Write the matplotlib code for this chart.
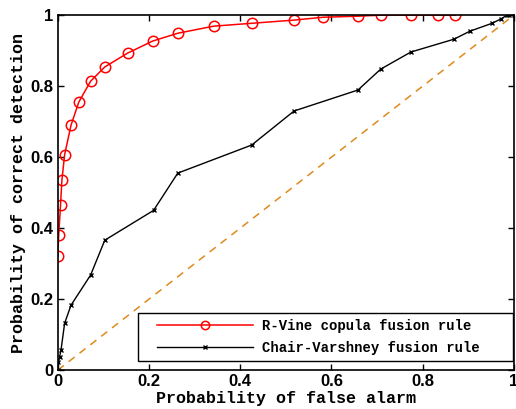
import matplotlib
matplotlib.use("Agg")
import matplotlib.pyplot as plt
from matplotlib.patches import Rectangle
import numpy as np

# R-Vine copula fusion rule
rvine_pf = [0.0, 0.002, 0.006, 0.009, 0.015, 0.029, 0.046, 0.072, 0.103, 0.153,
            0.208, 0.263, 0.342, 0.425, 0.518, 0.581, 0.658, 0.708, 0.774, 0.833, 0.871]
rvine_pd = [0.321, 0.380, 0.465, 0.535, 0.607, 0.690, 0.755, 0.814, 0.854, 0.893,
            0.927, 0.949, 0.969, 0.977, 0.986, 0.994, 0.997, 1.0, 1.0, 1.0, 1.0]

# Chair-Varshney fusion rule
cv_pf = [0.0, 0.001, 0.004, 0.007, 0.015, 0.029, 0.072, 0.103, 0.21, 0.263,
         0.425, 0.518, 0.658, 0.708, 0.774, 0.868, 0.904, 0.952, 0.971, 0.985, 0.99, 1.0]
cv_pd = [0.0, 0.022, 0.037, 0.056, 0.132, 0.183, 0.268, 0.366, 0.45, 0.555,
         0.634, 0.73, 0.789, 0.848, 0.896, 0.932, 0.955, 0.977, 0.989, 1.0, 1.0, 1.0]

fig = plt.figure(figsize=(5.16, 4.09), dpi=100)
ax = fig.add_axes([0.112, 0.095, 0.884, 0.868])

ax.plot([0, 1], [0, 1], linestyle=(0, (5, 4)), color="#e08a1e", linewidth=1.1)
ax.plot(rvine_pf, rvine_pd, color="red", marker="o", markersize=7.5,
        markerfacecolor="none", markeredgewidth=1.1, linewidth=1.1,
        label="R-Vine copula fusion rule")
ax.plot(cv_pf, cv_pd, color="black", marker="x", markersize=3.5,
        markeredgewidth=1.0, linewidth=1.0, label="Chair-Varshney fusion rule")

ax.set_xlim(0, 1)
ax.set_ylim(0, 1)
ticks = [0, 0.2, 0.4, 0.6, 0.8, 1]
labels = ["0", "0.2", "0.4", "0.6", "0.8", "1"]
ax.set_xticks(ticks)
ax.set_xticklabels(labels)
ax.set_yticks(ticks)
ax.set_yticklabels(labels)
ax.tick_params(direction="in", top=True, right=True, length=4, width=1,
               labelsize=12, pad=3)
for lab in ax.get_xticklabels() + ax.get_yticklabels():
    lab.set_fontweight("bold")
    lab.set_family("Liberation Sans")
for sp in ax.spines.values():
    sp.set_linewidth(1.2)

ax.set_xlabel("Probability of false alarm", fontsize=12, fontweight="bold",
              family="Liberation Mono", labelpad=1)
ax.set_ylabel("Probability of correct detection", fontsize=12, fontweight="bold",
              family="Liberation Mono", labelpad=3)

# legend box drawn separately (MATLAB-style wide box)
ax.add_patch(Rectangle((0.175, 0.025), 0.822, 0.135, transform=ax.transAxes,
                       facecolor="white", edgecolor="black", linewidth=1.0,
                       zorder=4))
leg = ax.legend(loc="center left", bbox_to_anchor=(0.217, 0.093),
                prop={"family": "Liberation Mono", "size": 10, "weight": "bold"},
                frameon=False, handlelength=6.9, handletextpad=0.7,
                borderaxespad=0, borderpad=0, markerscale=0.8, labelspacing=0.6)
leg.set_zorder(5)

plt.savefig("out.png", dpi=100)
